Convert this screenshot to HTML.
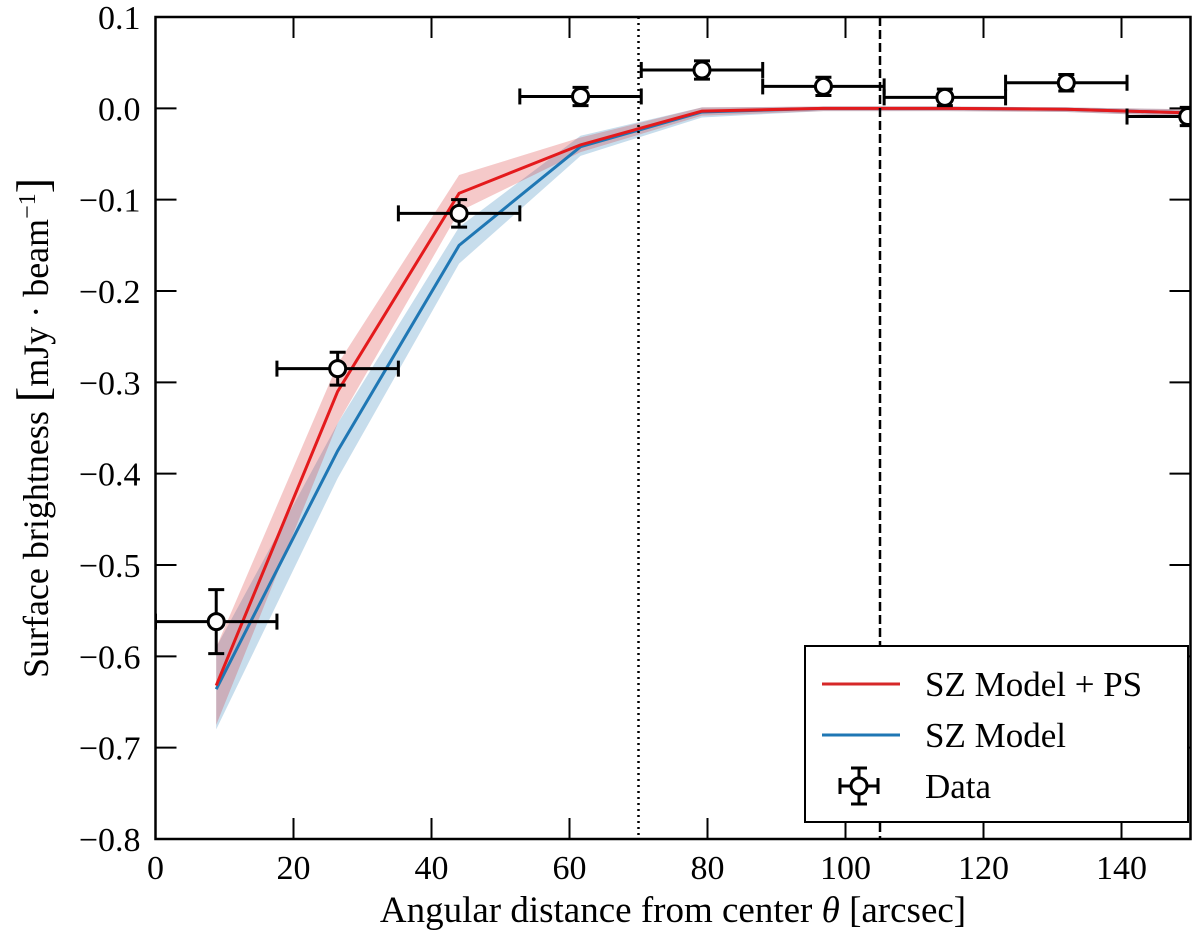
<!DOCTYPE html>
<html><head><meta charset="utf-8"><style>
body{margin:0;background:#fff}
svg, svg text{font-family:"Liberation Serif","Times New Roman",Times,serif;fill:#000}
</style></head><body>
<svg id="chart" width="1200" height="936" viewBox="0 0 1200 936" font-family="Liberation Serif, Times New Roman, serif">
<g id="bands"></g><g id="lines"></g><g id="vlines"></g><g id="data"></g><g id="axes"></g>
<g id="legend">
<rect x="805" y="646" width="383" height="176" fill="#fff" stroke="#000" stroke-width="2"/>
<line x1="822" y1="684" x2="900" y2="684" stroke="#d62728" stroke-width="3"/>
<text x="925" y="696" font-size="35">SZ Model + PS</text>
<line x1="822" y1="735" x2="900" y2="735" stroke="#1f77b4" stroke-width="3"/>
<text x="925" y="747" font-size="35">SZ Model</text>
<g stroke="#000" stroke-width="3">
<line x1="840" y1="786" x2="878" y2="786"/><line x1="840" y1="778" x2="840" y2="794"/><line x1="878" y1="778" x2="878" y2="794"/>
<line x1="859" y1="768" x2="859" y2="804"/><line x1="851" y1="768" x2="867" y2="768"/><line x1="851" y1="804" x2="867" y2="804"/>
<circle cx="859" cy="786" r="8" fill="#fff"/></g>
<text x="925" y="798" font-size="35">Data</text>
</g>
</svg>
<script>
const xs=[8.8,26.4,44,61.6,79.2,96.8,114.4,132,149.6];
const dataY=[-0.562,-0.285,-0.115,0.013,0.042,0.024,0.012,0.028,-0.009];
const dataYerr=[0.035,0.018,0.015,0.01,0.01,0.01,0.009,0.009,0.01];
const xerr=[8.8,8.8,8.8,8.8,8.8,8.8,8.8,8.8,8.8];
const redY=[-0.632,-0.31,-0.093,-0.04,-0.003,0,0,-0.001,-0.005];
const redLo=[-0.675,-0.345,-0.113,-0.048,-0.008,-0.003,-0.003,-0.004,-0.009];
const redHi=[-0.59,-0.28,-0.073,-0.032,0.001,0.002,0.002,0.001,-0.001];
const blueY=[-0.636,-0.375,-0.15,-0.042,-0.004,0,0,-0.001,-0.005];
const blueLo=[-0.68,-0.405,-0.17,-0.052,-0.01,-0.003,-0.003,-0.004,-0.009];
const blueHi=[-0.59,-0.345,-0.13,-0.03,0.001,0.002,0.002,0.001,-0.001];
const xTicks=[0,20,40,60,80,100,120,140];
const yTicks=[0.1,0,-0.1,-0.2,-0.3,-0.4,-0.5,-0.6,-0.7,-0.8];
const vDotted=70, vDashed=105;
const L=155.5,R=1190.5,T=17,B=839;
const X=v=>L+(v-0)/150*(R-L);
const Y=v=>T+(0.1-v)/0.9*(B-T);
const NS='http://www.w3.org/2000/svg';
function mk(p,t,a){const e=document.createElementNS(NS,t);for(const k in a)e.setAttribute(k,a[k]);p.appendChild(e);return e;}
const bands=document.getElementById('bands'),lines=document.getElementById('lines'),vl=document.getElementById('vlines'),dg=document.getElementById('data'),ax=document.getElementById('axes');
function band(lo,hi,col,name){let d='M'+xs.map((x,i)=>X(x)+','+Y(hi[i])).join('L')+'L'+xs.map((x,i)=>X(x)+','+Y(lo[i])).reverse().join('L')+'Z';
const e=mk(bands,'path',{d:d,fill:col,'fill-opacity':0.25});

}
band(blueLo,blueHi,'#1f77b4','sz-model-band');
band(redLo,redHi,'#d62728','sz-ps-band');
function line(ys,col,name){const e=mk(lines,'polyline',{points:xs.map((x,i)=>X(x)+','+Y(ys[i])).join(' '),fill:'none',stroke:col,'stroke-width':3});

}
line(blueY,'#1f77b4','sz-model-line');
line(redY,'#e41a1c','sz-ps-line');
let e=mk(vl,'line',{x1:X(vDotted),x2:X(vDotted),y1:T,y2:B,stroke:'#000','stroke-width':2.5,'stroke-dasharray':'2,4'});


e=mk(vl,'line',{x1:X(vDashed),x2:X(vDashed),y1:T,y2:B,stroke:'#000','stroke-width':2.5,'stroke-dasharray':'9,4'});


const clip=mk(document.getElementById('chart'),'clipPath',{id:'pc'});mk(clip,'rect',{x:L,y:T,width:R-L,height:B-T});
dg.setAttribute('clip-path','url(#pc)');
xs.forEach((x,i)=>{const g=mk(dg,'g',{stroke:'#000','stroke-width':3});


const cx=X(x),cy=Y(dataY[i]),x1=X(x-xerr[i]),x2=X(x+xerr[i]),y1=Y(dataY[i]+dataYerr[i]),y2=Y(dataY[i]-dataYerr[i]);
mk(g,'line',{x1:x1,x2:x2,y1:cy,y2:cy});mk(g,'line',{x1:x1,x2:x1,y1:cy-8,y2:cy+8});mk(g,'line',{x1:x2,x2:x2,y1:cy-8,y2:cy+8});
mk(g,'line',{x1:cx,x2:cx,y1:y1,y2:y2});mk(g,'line',{x1:cx-8,x2:cx+8,y1:y1,y2:y1});mk(g,'line',{x1:cx-8,x2:cx+8,y1:y2,y2:y2});
mk(g,'circle',{cx:cx,cy:cy,r:8,fill:'#fff'});});
e=mk(ax,'rect',{x:L,y:T,width:R-L,height:B-T,fill:'none',stroke:'#000','stroke-width':2.5});


xTicks.forEach(v=>{mk(ax,'line',{x1:X(v),x2:X(v),y1:B,y2:B-21,stroke:'#000','stroke-width':2});mk(ax,'line',{x1:X(v),x2:X(v),y1:T,y2:T+21,stroke:'#000','stroke-width':2});
const t=mk(ax,'text',{x:X(v),y:B+40,'text-anchor':'middle','font-size':34});t.textContent=v;

});
yTicks.forEach(v=>{mk(ax,'line',{x1:L,x2:L+21,y1:Y(v),y2:Y(v),stroke:'#000','stroke-width':2});mk(ax,'line',{x1:R,x2:R-21,y1:Y(v),y2:Y(v),stroke:'#000','stroke-width':2});
const t=mk(ax,'text',{x:L-15,y:Y(v)+12,'text-anchor':'end','font-size':34});t.textContent=(v<0?'\u2212':'')+Math.abs(v).toFixed(1);

});
let t=mk(ax,'text',{x:673,y:922,'text-anchor':'middle','font-size':37});t.innerHTML='Angular distance from center <tspan font-style="italic">θ</tspan> [arcsec]';


t=mk(ax,'text',{x:0,y:0,'text-anchor':'middle','font-size':36,transform:'translate(48,428) rotate(-90)'});t.innerHTML='Surface brightness <tspan font-size="46">[</tspan>mJy · beam<tspan baseline-shift="super" font-size="24">−1</tspan><tspan font-size="46">]</tspan>';


</script>
</body></html>
